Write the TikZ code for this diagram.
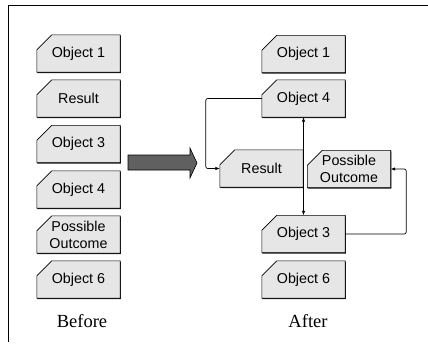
\documentclass[tikz,border=0pt]{standalone}
\usepackage{fontspec}
\setmainfont{Liberation Serif}
\newfontfamily\boxfont{Liberation Sans}
\usetikzlibrary{arrows.meta,calc}

\definecolor{boxfill}{HTML}{E6E6E6}
\definecolor{arrowfill}{HTML}{606060}

\tikzset{
  boxtext/.style={inner sep=0pt, minimum width=83pt, minimum height=37pt,
    align=center, font=\boxfont\fontsize{14.3}{17}\selectfont},
  boxline/.style={draw=black, line width=0.6pt, fill=boxfill, line join=miter},
  boxshadow/.style={fill=black!85},
  conn/.style={draw=black, line width=0.7pt, rounded corners=2pt,
    -{Latex[length=4.5pt,width=3.5pt]}},
  twoway/.style={conn, {Latex[length=4.5pt,width=3.5pt]}-{Latex[length=4.5pt,width=3.5pt]}},
  bigarrow/.style={fill=arrowfill, draw=black, line width=0.6pt, line join=miter},
  caption/.style={font=\fontsize{18.5}{20}\selectfont, inner sep=0pt},
  frame/.style={draw=black, line width=1pt}
}

% box with its top-left corner cut off
\newcommand\chbox[4]{%
  \node[boxtext] (#1) at (#2,#3) {};
  \fill[boxshadow] ($(#1.south west)+(0.6,1)$) -- ($(#1.north west)+(0.6,16)$)
    -- ($(#1.north west)+(15.6,1)$) -- ($(#1.north east)+(0.6,1)$)
    -- ($(#1.south east)+(0.6,1)$) -- cycle;
  \draw[boxline] (#1.south west) -- ($(#1.north west)+(0,15)$)
    -- ($(#1.north west)+(15,0)$) -- (#1.north east)
    -- (#1.south east) -- cycle;
  \node[boxtext] at (#1) {#4};
}

\begin{document}
\begin{tikzpicture}[x=1pt,y=-1pt]
  \useasboundingbox (0,0) rectangle (428,346);

  % open frame: top and left rules
  \draw[frame] (428,5.5) -- (8,5.5) -- (8,342);

  % before
  \chbox{bo1}{78.5}{53.5}{Object 1}
  \chbox{bres}{78.5}{98.5}{Result}
  \chbox{bo3}{78.5}{144}{Object 3}
  \chbox{bo4}{78.5}{189.5}{Object 4}
  \chbox{bpo}{78.5}{234.5}{Possible\\Outcome}
  \chbox{bo6}{78.5}{279.5}{Object 6}
  \node[caption] (before) at (82,321) {Before};

  % transition arrow
  \draw[bigarrow] (128,155) -- (190,155) -- (190,148) -- (197,163)
    -- (190,178) -- (190,170) -- (128,170) -- cycle;

  % after
  \chbox{ao1}{303.5}{54}{Object 1}
  \chbox{ao4}{303.5}{98.5}{Object 4}
  \chbox{ares}{261.5}{168.5}{Result}
  \chbox{apo}{349}{169}{Possible\\Outcome}
  \chbox{ao3}{303.5}{234}{Object 3}
  \chbox{ao6}{303.5}{279.5}{Object 6}
  \node[caption] (after) at (308,321) {After};

  % connectors
  \draw[conn] (ao4.west) -- ++(-56,0) |- (ares.west);
  \draw[twoway] (ao4.south) -- (ao3.north);
  \draw[conn] (ao3.east) -- ++(61,0) |- (apo.east);
\end{tikzpicture}
\end{document}
